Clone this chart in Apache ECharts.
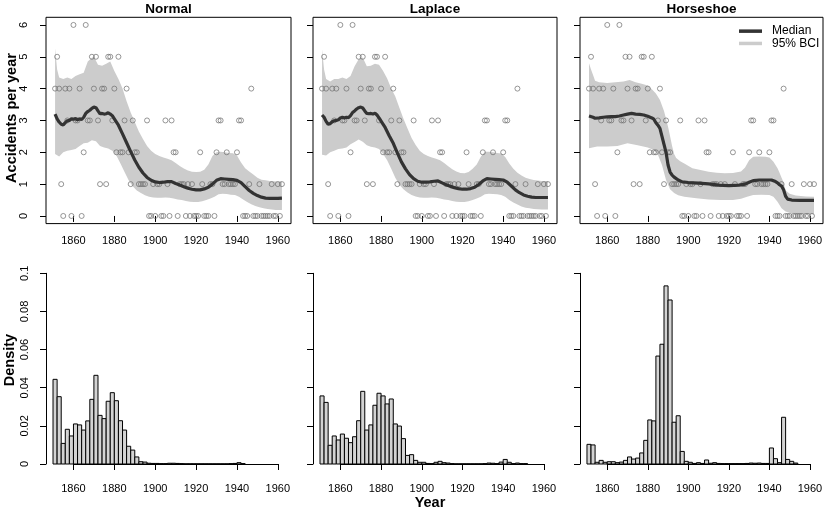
<!DOCTYPE html>
<html>
<head>
<meta charset="utf-8">
<title>Coal mining disasters</title>
<script src="https://cdn.jsdelivr.net/npm/echarts@6/dist/echarts.min.js"></script>
<style>
html, body { margin: 0; padding: 0; background: #fff; }
#chart { width: 830px; height: 525px; }
</style>
</head>
<body>
<div id="chart"></div>
<script>
// accidents per year, starting 1851
const firstYear = 1851;
const accidents = [
    4, 5, 4, 1, 0, 4, 3, 4, 0, 6,
    3, 3, 4, 0, 2, 6, 3, 3, 5, 4,
    5, 3, 1, 4, 4, 1, 5, 5, 3, 4,
    2, 5, 2, 2, 3, 4, 2, 1, 3, 2,
    2, 1, 1, 1, 1, 3, 0, 0, 1, 0,
    1, 1, 0, 0, 3, 1, 0, 3, 2, 2,
    0, 1, 1, 1, 0, 1, 0, 1, 0, 0,
    0, 2, 1, 0, 0, 0, 1, 1, 0, 2,
    3, 3, 1, 1, 2, 1, 1, 1, 1, 2,
    3, 3, 0, 0, 0, 1, 4, 0, 0, 0,
    1, 0, 0, 0, 0, 0, 1, 0, 0, 1,
    0, 1
];

const modelNames = ['Normal', 'Laplace', 'Horseshoe'];
const yearTicks = [1860, 1880, 1900, 1920, 1940, 1960];
const countTicks = [0, 1, 2, 3, 4, 5, 6];

// posterior median of the rate [year, value]
const medianNormal = [
    [1851, 3.20], [1852, 3.05], [1853, 2.95], [1854, 2.88], [1855, 2.86], [1856, 2.93], [1857, 2.99],
    [1858, 3.00], [1859, 3.05], [1860, 3.04], [1861, 3.06], [1862, 3.02], [1863, 3.05], [1864, 3.03],
    [1865, 3.10], [1866, 3.22], [1867, 3.28], [1868, 3.32], [1869, 3.38], [1870, 3.42], [1871, 3.40],
    [1872, 3.30], [1873, 3.21], [1874, 3.22], [1875, 3.20], [1876, 3.21], [1877, 3.24], [1878, 3.20],
    [1879, 3.15], [1880, 3.05], [1882, 2.85], [1884, 2.58], [1886, 2.30], [1888, 2.02], [1890, 1.76],
    [1892, 1.53], [1894, 1.35], [1896, 1.21], [1898, 1.12], [1900, 1.07], [1902, 1.05], [1904, 1.06],
    [1906, 1.08], [1908, 1.08], [1910, 1.02], [1912, 0.97], [1914, 0.92], [1916, 0.87], [1918, 0.84],
    [1920, 0.82], [1922, 0.82], [1924, 0.85], [1926, 0.90], [1928, 1.00], [1930, 1.12], [1932, 1.17],
    [1934, 1.16], [1936, 1.15], [1938, 1.14], [1940, 1.12], [1942, 1.05], [1944, 0.92], [1946, 0.80],
    [1948, 0.71], [1950, 0.64], [1952, 0.59], [1954, 0.56], [1956, 0.55], [1958, 0.55], [1960, 0.55],
    [1962, 0.56]
];
const upperNormal = [
    [1851, 5.27], [1852, 4.60], [1853, 4.35], [1855, 4.30], [1857, 4.35], [1859, 4.30], [1861, 4.40],
    [1863, 4.45], [1865, 4.50], [1867, 4.85], [1869, 4.97], [1870, 5.00], [1872, 4.75], [1874, 4.72],
    [1876, 4.78], [1878, 4.85], [1880, 4.55], [1882, 4.30], [1884, 4.00], [1886, 3.60], [1888, 3.25],
    [1890, 2.95], [1892, 2.65], [1894, 2.42], [1896, 2.20], [1898, 2.05], [1900, 1.95], [1902, 1.88],
    [1904, 1.84], [1906, 1.80], [1908, 1.75], [1910, 1.66], [1912, 1.57], [1914, 1.49], [1916, 1.43],
    [1918, 1.39], [1920, 1.38], [1922, 1.39], [1924, 1.45], [1926, 1.62], [1928, 1.88], [1930, 2.00],
    [1932, 2.02], [1934, 2.00], [1936, 1.98], [1938, 1.97], [1940, 1.90], [1942, 1.68], [1944, 1.50],
    [1946, 1.40], [1948, 1.30], [1950, 1.20], [1952, 1.14], [1954, 1.12], [1956, 1.10], [1958, 1.09],
    [1960, 1.08], [1962, 1.08]
];
const lowerNormal = [
    [1851, 1.95], [1853, 1.87], [1855, 2.00], [1857, 2.05], [1859, 2.07], [1861, 2.10], [1863, 2.20],
    [1865, 2.28], [1867, 2.30], [1869, 2.38], [1871, 2.35], [1873, 2.20], [1875, 2.15], [1877, 2.12],
    [1879, 2.05], [1881, 1.90], [1883, 1.65], [1885, 1.38], [1887, 1.12], [1889, 0.93], [1891, 0.80],
    [1893, 0.72], [1895, 0.65], [1897, 0.60], [1899, 0.58], [1901, 0.57], [1903, 0.57], [1905, 0.58],
    [1907, 0.57], [1909, 0.55], [1911, 0.52], [1913, 0.50], [1915, 0.47], [1917, 0.45], [1919, 0.44],
    [1921, 0.44], [1923, 0.46], [1925, 0.50], [1927, 0.55], [1929, 0.60], [1931, 0.68], [1933, 0.70],
    [1935, 0.69], [1937, 0.67], [1939, 0.66], [1941, 0.60], [1943, 0.52], [1945, 0.44], [1947, 0.37],
    [1949, 0.31], [1951, 0.27], [1953, 0.24], [1955, 0.22], [1957, 0.20], [1959, 0.19], [1962, 0.19]
];

const medianLaplace = [
    [1851, 3.17], [1852, 3.10], [1853, 2.97], [1854, 2.88], [1855, 2.90], [1856, 2.96], [1857, 2.99],
    [1858, 3.00], [1859, 3.02], [1860, 3.08], [1861, 3.10], [1862, 3.08], [1863, 3.10], [1864, 3.09],
    [1865, 3.15], [1866, 3.25], [1867, 3.30], [1868, 3.36], [1869, 3.40], [1870, 3.42], [1871, 3.39],
    [1872, 3.30], [1873, 3.22], [1874, 3.21], [1875, 3.22], [1876, 3.20], [1877, 3.23], [1878, 3.17],
    [1879, 3.08], [1880, 2.98], [1882, 2.78], [1884, 2.52], [1886, 2.28], [1888, 1.98], [1890, 1.70],
    [1892, 1.48], [1894, 1.30], [1896, 1.17], [1898, 1.09], [1900, 1.06], [1902, 1.06], [1904, 1.07],
    [1906, 1.09], [1908, 1.10], [1910, 1.04], [1912, 0.98], [1914, 0.93], [1916, 0.89], [1918, 0.86],
    [1920, 0.84], [1922, 0.84], [1924, 0.86], [1926, 0.90], [1928, 0.99], [1930, 1.10], [1932, 1.17],
    [1934, 1.16], [1936, 1.15], [1938, 1.14], [1940, 1.13], [1942, 1.06], [1944, 0.94], [1946, 0.82],
    [1948, 0.73], [1950, 0.66], [1952, 0.62], [1954, 0.59], [1956, 0.58], [1958, 0.58], [1960, 0.58],
    [1962, 0.58]
];
const upperLaplace = [
    [1851, 5.24], [1852, 4.60], [1853, 4.30], [1855, 4.22], [1857, 4.30], [1859, 4.30], [1861, 4.35],
    [1863, 4.30], [1865, 4.40], [1867, 4.70], [1869, 4.92], [1871, 4.98], [1873, 4.70], [1875, 4.72],
    [1877, 4.78], [1879, 4.75], [1881, 4.55], [1883, 4.32], [1885, 4.00], [1887, 3.75], [1889, 3.40],
    [1891, 3.05], [1893, 2.75], [1895, 2.45], [1897, 2.23], [1899, 2.05], [1901, 1.95], [1903, 1.88],
    [1905, 1.84], [1907, 1.80], [1909, 1.75], [1911, 1.66], [1913, 1.56], [1915, 1.47], [1917, 1.40],
    [1919, 1.35], [1921, 1.34], [1923, 1.38], [1925, 1.48], [1927, 1.62], [1929, 1.86], [1931, 2.02],
    [1933, 2.02], [1935, 2.00], [1937, 1.98], [1939, 1.96], [1941, 1.85], [1943, 1.65], [1945, 1.48],
    [1947, 1.36], [1949, 1.27], [1951, 1.20], [1953, 1.16], [1955, 1.13], [1957, 1.11], [1959, 1.10],
    [1962, 1.10]
];
const lowerLaplace = [
    [1851, 1.92], [1853, 1.90], [1855, 2.00], [1857, 2.05], [1859, 2.10], [1861, 2.12], [1863, 2.15],
    [1865, 2.25], [1867, 2.32], [1869, 2.40], [1871, 2.33], [1873, 2.22], [1875, 2.17], [1877, 2.15],
    [1879, 2.10], [1881, 1.95], [1883, 1.75], [1885, 1.48], [1887, 1.20], [1889, 0.98], [1891, 0.84],
    [1893, 0.74], [1895, 0.66], [1897, 0.61], [1899, 0.58], [1901, 0.57], [1903, 0.57], [1905, 0.58],
    [1907, 0.57], [1909, 0.55], [1911, 0.52], [1913, 0.50], [1915, 0.47], [1917, 0.45], [1919, 0.44],
    [1921, 0.44], [1923, 0.46], [1925, 0.50], [1927, 0.55], [1929, 0.60], [1931, 0.68], [1933, 0.70],
    [1935, 0.69], [1937, 0.68], [1939, 0.66], [1941, 0.60], [1943, 0.50], [1945, 0.42], [1947, 0.36],
    [1949, 0.30], [1951, 0.26], [1953, 0.24], [1955, 0.22], [1957, 0.21], [1959, 0.20], [1962, 0.20]
];

const medianHorseshoe = [
    [1851, 3.14], [1853, 3.10], [1854, 3.07], [1856, 3.08], [1858, 3.10], [1860, 3.11], [1862, 3.12],
    [1864, 3.12], [1866, 3.14], [1868, 3.17], [1870, 3.20], [1872, 3.22], [1874, 3.20], [1876, 3.19],
    [1878, 3.17], [1880, 3.13], [1882, 3.08], [1883, 3.04], [1884, 2.93], [1885, 2.85], [1886, 2.75],
    [1887, 2.50], [1888, 2.25], [1889, 2.00], [1890, 1.60], [1891, 1.38], [1892, 1.28], [1893, 1.22],
    [1895, 1.13], [1897, 1.07], [1900, 1.05], [1905, 1.03], [1910, 1.01], [1915, 0.97], [1920, 0.95],
    [1925, 0.97], [1928, 1.00], [1930, 1.06], [1932, 1.11], [1935, 1.13], [1938, 1.13], [1941, 1.13],
    [1943, 1.08], [1944, 1.04], [1945, 0.98], [1946, 0.94], [1947, 0.82], [1948, 0.62], [1949, 0.53],
    [1951, 0.50], [1955, 0.49], [1962, 0.49]
];
const upperHorseshoe = [
    [1851, 4.80], [1852, 4.60], [1853, 4.43], [1854, 4.25], [1856, 4.20], [1860, 4.18], [1864, 4.20],
    [1868, 4.22], [1871, 4.27], [1874, 4.20], [1877, 4.15], [1880, 4.10], [1882, 3.98], [1884, 3.85],
    [1886, 3.64], [1888, 3.30], [1889, 3.05], [1890, 2.80], [1891, 2.50], [1892, 2.20], [1893, 1.95],
    [1894, 1.82], [1896, 1.72], [1898, 1.65], [1902, 1.50], [1906, 1.44], [1910, 1.39], [1914, 1.36],
    [1918, 1.34], [1922, 1.35], [1926, 1.40], [1928, 1.52], [1930, 1.75], [1932, 1.86], [1935, 1.87],
    [1938, 1.86], [1940, 1.84], [1942, 1.70], [1944, 1.50], [1945, 1.36], [1946, 1.20], [1947, 1.05],
    [1948, 0.80], [1950, 0.70], [1953, 0.64], [1958, 0.61], [1962, 0.60]
];
const lowerHorseshoe = [
    [1851, 2.13], [1855, 2.18], [1860, 2.18], [1865, 2.20], [1870, 2.28], [1875, 2.22], [1880, 2.15],
    [1883, 2.07], [1885, 1.92], [1887, 1.60], [1889, 1.13], [1891, 0.84], [1893, 0.72], [1895, 0.65],
    [1898, 0.60], [1904, 0.56], [1910, 0.52], [1916, 0.50], [1922, 0.50], [1926, 0.54], [1929, 0.60],
    [1932, 0.66], [1936, 0.67], [1940, 0.66], [1942, 0.60], [1944, 0.45], [1946, 0.24], [1948, 0.14],
    [1951, 0.08], [1955, 0.06], [1962, 0.05]
];

// change point posterior density, 2-year bins from 1850
const firstBin = 1850;
const binWidth = 2;
const densityTicks = [0, 0.02, 0.04, 0.06, 0.08, 0.1];
const densityNormal = [
    0.0444, 0.0353, 0.0108, 0.0182, 0.0147, 0.0210, 0.0205, 0.0178, 0.0226, 0.0339,
    0.0465, 0.0255, 0.0238, 0.0329, 0.0374, 0.0332, 0.0227, 0.0178, 0.0093, 0.0073,
    0.0037, 0.0012, 0.0010, 0.0004, 0.0003, 0.0003, 0.0002, 0.0002, 0.0004, 0.0004,
    0.0003, 0.0002, 0.0001, 0.0001, 0.0001, 0.0001, 0.0001, 0.0001, 0.0001, 0.0001,
    0.0001, 0.0001, 0.0001, 0.0002, 0.0003, 0.0007, 0.0002
];
const densityLaplace = [
    0.0357, 0.0323, 0.0098, 0.0147, 0.0126, 0.0157, 0.0135, 0.0112, 0.0143, 0.0227,
    0.0381, 0.0178, 0.0205, 0.0308, 0.0371, 0.0357, 0.0315, 0.0341, 0.0210, 0.0199,
    0.0133, 0.0045, 0.0049, 0.0019, 0.0009, 0.0009, 0.0003, 0.0002, 0.0009, 0.0014,
    0.0007, 0.0005, 0.0002, 0.0001, 0.0001, 0.0001, 0.0001, 0.0001, 0.0001, 0.0001,
    0.0002, 0.0005, 0.0004, 0.0002, 0.0010, 0.0024, 0.0009, 0.0002, 0.0005, 0.0002,
    0.0002
];
const densityHorseshoe = [
    0.0103, 0.0100, 0.0009, 0.0019, 0.0009, 0.0012, 0.0012, 0.0007, 0.0010, 0.0019,
    0.0037, 0.0026, 0.0031, 0.0058, 0.0124, 0.0231, 0.0226, 0.0566, 0.0628, 0.0934,
    0.0860, 0.0219, 0.0253, 0.0066, 0.0014, 0.0009, 0.0003, 0.0007, 0.0003, 0.0021,
    0.0004, 0.0007, 0.0003, 0.0002, 0.0002, 0.0002, 0.0002, 0.0002, 0.0002, 0.0003,
    0.0005, 0.0004, 0.0005, 0.0003, 0.0003, 0.0084, 0.0028, 0.0007, 0.0245, 0.0024,
    0.0014, 0.0005
];

const medians = [medianNormal, medianLaplace, medianHorseshoe];
const uppers = [upperNormal, upperLaplace, upperHorseshoe];
const lowers = [lowerNormal, lowerLaplace, lowerHorseshoe];
const densities = [densityNormal, densityLaplace, densityHorseshoe];

const FONT = '"Liberation Sans", Arial, Helvetica, sans-serif';
const panelLeft = [46, 313, 580];
const panelWidth = [245, 244, 243];
const xMin = 1846.56;
const xMax = 1966.44;
const histTop = 273.3;
const histHeight = 190.7;

const xPixel = (i, year) => panelLeft[i] + (year - xMin) / (xMax - xMin) * panelWidth[i];

const points = accidents.map((v, i) => [firstYear + i, v]);

const chart = echarts.init(document.getElementById('chart'));

const grids = [];
const xAxes = [];
const yAxes = [];
const series = [];
const tickLabel = { color: '#000', fontFamily: FONT, fontSize: 11, formatter: v => String(v) };

for (let i = 0; i < 3; i++) {
    // top row: data + posterior rate
    grids.push({
        left: panelLeft[i], width: panelWidth[i], top: 17.3, height: 206.3,
        show: true, borderColor: '#000', borderWidth: 1, backgroundColor: 'transparent'
    });
    xAxes.push({
        type: 'value', gridIndex: i, min: xMin, max: xMax,
        axisLine: { show: false },
        splitLine: { show: false },
        axisTick: { show: true, length: 6, customValues: yearTicks, lineStyle: { color: '#000' } },
        axisLabel: { ...tickLabel, margin: 12, customValues: yearTicks }
    });
    yAxes.push({
        type: 'value', gridIndex: i, min: -0.24, max: 6.24,
        axisLine: { show: false },
        splitLine: { show: false },
        axisTick: { show: true, length: 6, customValues: countTicks, lineStyle: { color: '#000' } },
        axisLabel: { ...tickLabel, show: i === 0, rotate: 90, margin: 17, customValues: countTicks }
    });
    const upper = uppers[i];
    const lower = lowers[i];
    series.push({
        type: 'custom', name: '95% BCI', xAxisIndex: i, yAxisIndex: i, z: 1, silent: true,
        data: [[1900, 3]],
        renderItem: (params, api) => {
            const ring = upper.map(p => api.coord(p))
                .concat(lower.slice().reverse().map(p => api.coord(p)));
            return { type: 'polygon', shape: { points: ring }, style: { fill: '#cccccc' } };
        }
    });
    series.push({
        type: 'scatter', xAxisIndex: i, yAxisIndex: i, z: 2, silent: true,
        symbol: 'circle', symbolSize: 5,
        itemStyle: { color: 'rgba(0,0,0,0)', borderColor: '#6e6e6e', borderWidth: 0.9 },
        data: points
    });
    series.push({
        type: 'line', name: 'Median', xAxisIndex: i, yAxisIndex: i, z: 3, silent: true,
        symbol: 'none', lineStyle: { color: '#333333', width: 3.2 },
        data: medians[i]
    });
}

for (let i = 0; i < 3; i++) {
    // bottom row: change point histogram
    const g = 3 + i;
    const left = xPixel(i, 1860);
    grids.push({ left: left, width: xPixel(i, 1960) - left, top: histTop, height: histHeight });
    xAxes.push({
        type: 'value', gridIndex: g, min: 1860, max: 1960, interval: 20, offset: 7,
        axisLine: { show: true, lineStyle: { color: '#000', width: 1 } },
        splitLine: { show: false },
        axisTick: { show: true, length: 6, lineStyle: { color: '#000' } },
        axisLabel: { ...tickLabel, margin: 12 }
    });
    yAxes.push({
        type: 'value', gridIndex: g, min: 0, max: 0.1, interval: 0.02, offset: left - panelLeft[i],
        axisLine: { show: true, lineStyle: { color: '#000', width: 1 } },
        splitLine: { show: false },
        axisTick: { show: true, length: 6, lineStyle: { color: '#000' } },
        axisLabel: { ...tickLabel, show: i === 0, rotate: 90, margin: 16 }
    });
    series.push({
        type: 'custom', xAxisIndex: g, yAxisIndex: g, silent: true, clip: false,
        data: densities[i].map((d, k) => [firstBin + k * binWidth, d]),
        renderItem: (params, api) => {
            const x0 = api.value(0);
            const top = api.coord([x0, api.value(1)]);
            const base = api.coord([x0 + binWidth, 0]);
            return {
                type: 'rect',
                shape: { x: top[0], y: top[1], width: base[0] - top[0], height: base[1] - top[1] },
                style: { fill: '#d3d3d3', stroke: '#000', lineWidth: 1 }
            };
        }
    });
}

const titleFont = 'bold 13.5px ' + FONT;
const labFont = 'bold 14.5px ' + FONT;
const graphics = modelNames.map((name, i) => ({
    type: 'text', x: panelLeft[i] + panelWidth[i] / 2, y: 9.5,
    style: { text: name, font: titleFont, fill: '#000', align: 'center', verticalAlign: 'middle' }
}));
graphics.push(
    { type: 'text', x: 11.5, y: 118, rotation: Math.PI / 2,
      style: { text: 'Accidents per year', font: labFont, fill: '#000', align: 'center', verticalAlign: 'middle' } },
    { type: 'text', x: 10, y: 360, rotation: Math.PI / 2,
      style: { text: 'Density', font: labFont, fill: '#000', align: 'center', verticalAlign: 'middle' } },
    { type: 'text', x: 430, y: 503,
      style: { text: 'Year', font: labFont, fill: '#000', align: 'center', verticalAlign: 'middle' } }
);

chart.setOption({
    animation: false,
    backgroundColor: '#fff',
    grid: grids,
    xAxis: xAxes,
    yAxis: yAxes,
    series: series,
    graphic: graphics,
    legend: {
        orient: 'vertical', left: 739, top: 25, padding: 0,
        itemWidth: 23, itemHeight: 3.5, itemGap: 0,
        selectedMode: false,
        textStyle: { fontFamily: FONT, fontSize: 12, color: '#000', lineHeight: 12.3, padding: [0, 0, 0, 5] },
        data: [
            { name: 'Median', icon: 'rect', itemStyle: { color: '#333333' } },
            { name: '95% BCI', icon: 'rect', itemStyle: { color: '#cccccc' } }
        ]
    }
});
</script>
</body>
</html>
